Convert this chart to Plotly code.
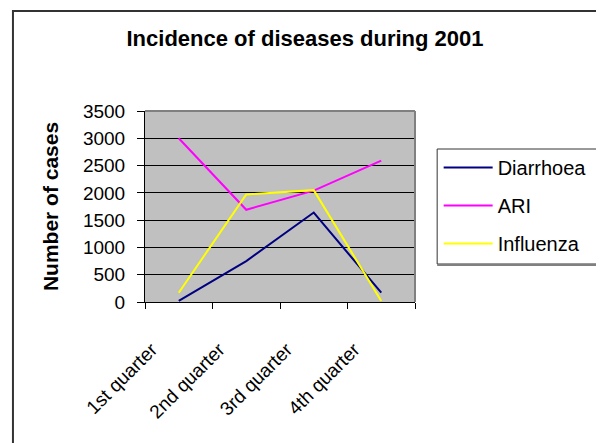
import plotly.graph_objects as go

categories = ["1st quarter", "2nd quarter", "3rd quarter", "4th quarter"]
diarrhoea = [20, 750, 1640, 170]
ari = [3000, 1690, 2040, 2590]
influenza = [170, 1970, 2050, 20]
y_ticks = [0, 500, 1000, 1500, 2000, 2500, 3000, 3500]

OFF = 8  # page body margin
W, H = 604 - OFF, 443 - OFF
L, R, T, B = 145 - OFF, 419 - OFF, 111 - OFF, 302 - OFF  # plot area in fig px


def px_x(x):
    return (x - OFF - L) / (R - L)


def px_y(y):
    return (B - (y - OFF)) / (B - T)


FONT = "Liberation Sans, Arial, sans-serif"

fig = go.Figure()
series = [("Diarrhoea", diarrhoea, "#000080"),
          ("ARI", ari, "#FF00FF"),
          ("Influenza", influenza, "#FFFF00")]
for name, vals, col in series:
    fig.add_trace(go.Scatter(x=categories, y=vals, name=name, mode="lines",
                             line=dict(color=col, width=2), legendgroup=name))

fig.update_layout(
    width=W, height=H,
    margin=dict(l=L, r=W - R, t=T, b=H - B),
    paper_bgcolor="white",
    plot_bgcolor="#C0C0C0",
    font=dict(family=FONT, color="black", size=19),
    title=dict(text="<b>Incidence of diseases during 2001</b>",
               x=(305 - OFF) / W, xanchor="center", y=1 - (38 - OFF) / H,
               yanchor="middle",
               font=dict(size=22, family=FONT, color="black")),
    showlegend=True,
    legend=dict(x=px_x(443), y=px_y(148), xanchor="left", yanchor="top",
                bgcolor="rgba(0,0,0,0)", borderwidth=0,
                font=dict(size=20, family=FONT), tracegroupgap=9,
                itemwidth=49),
)

fig.update_xaxes(
    type="category", range=[-0.5, 3.5],
    tickson="boundaries", ticks="outside", ticklen=6, tickcolor="black",
    showline=True, linecolor="black", linewidth=1,
    showgrid=False, tickangle=-45,
    tickfont=dict(size=19, family=FONT),
    ticklabelstandoff=28, ticklabelshift=-27,
)
fig.update_yaxes(
    range=[0, 3500], tickvals=y_ticks, ticktext=[str(v) for v in y_ticks],
    ticks="outside", ticklen=7, tickcolor="black",
    showline=True, linecolor="black", linewidth=1,
    showgrid=True, gridcolor="black", gridwidth=1,
    zeroline=False,
    tickfont=dict(size=19, family=FONT), ticklabelstandoff=8,
    title=dict(text="<b>Number of cases</b>", font=dict(size=21, family=FONT),
               standoff=18),
)

# plot-area border (top / right in gray)
fig.add_shape(type="line", xref="paper", yref="paper", x0=0, x1=1, y0=1, y1=1,
              line=dict(color="#808080", width=2))
fig.add_shape(type="line", xref="paper", yref="paper", x0=1, x1=1, y0=0, y1=1,
              line=dict(color="#808080", width=2))
# outer chart border
fig.add_shape(type="rect", xref="paper", yref="paper",
              x0=px_x(11), x1=px_x(640), y0=px_y(11), y1=px_y(480),
              line=dict(color="#333333", width=2), layer="above")
# legend box
fig.add_shape(type="rect", xref="paper", yref="paper",
              x0=px_x(441.5), x1=px_x(640), y0=px_y(149), y1=px_y(264),
              line=dict(color="#333333", width=1), layer="above")
fig.add_shape(type="line", xref="paper", yref="paper",
              x0=px_x(441.5), x1=px_x(640), y0=px_y(265), y1=px_y(265),
              line=dict(color="#808080", width=2), layer="above")

fig.write_html("out.html")
